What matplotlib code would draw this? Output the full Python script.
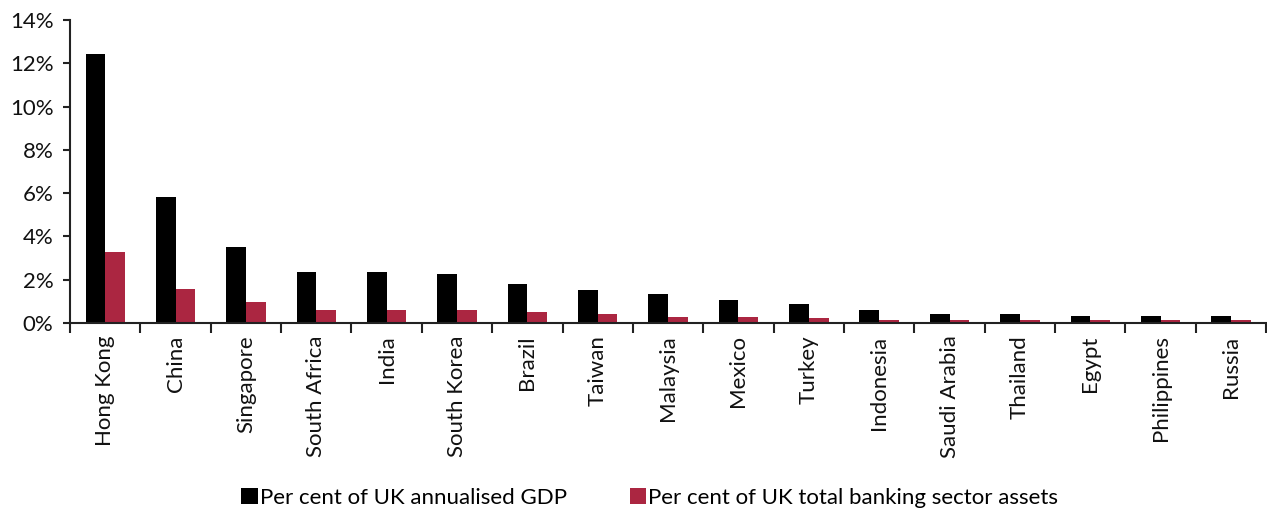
import numpy as np
import matplotlib
matplotlib.use("Agg")
import matplotlib.pyplot as plt
from matplotlib.ticker import FixedLocator, FuncFormatter

plt.rcParams["font.family"] = ["Lato", "DejaVu Sans"]

countries = ["Hong Kong", "China", "Singapore", "South Africa", "India",
             "South Korea", "Brazil", "Taiwan", "Malaysia", "Mexico", "Turkey",
             "Indonesia", "Saudi Arabia", "Thailand", "Egypt", "Philippines",
             "Russia"]
gdp_share = [12.45, 5.8, 3.5, 2.37, 2.37, 2.27, 1.8, 1.53, 1.33, 1.05, 0.88,
             0.59, 0.40, 0.40, 0.31, 0.31, 0.31]
bank_share = [3.3, 1.55, 0.97, 0.6, 0.6, 0.6, 0.5, 0.42, 0.29, 0.29, 0.22,
              0.12, 0.12, 0.12, 0.12, 0.12, 0.12]

BLACK = "#000000"
RED = "#ab2641"
FS = 16

fig = plt.figure(figsize=(12.67, 5.15), dpi=100)
ax = fig.add_axes([0.0553, 0.373, 0.944, 0.588])

x = np.arange(len(countries))
w = 0.28
ax.bar(x - w / 2, gdp_share, w, color=BLACK, label="Per cent of UK annualised GDP")
ax.bar(x + w / 2, bank_share, w, color=RED,
       label="Per cent of UK total banking sector assets")

ax.set_xlim(-0.5, len(countries) - 0.5)
ax.set_ylim(0, 14)
ax.set_yticks(np.arange(0, 15, 2))
ax.yaxis.set_major_formatter(FuncFormatter(lambda v, _: f"{v:.0f}%"))

# labels at category centres, tick marks at category boundaries
ax.set_xticks(x)
ax.set_xticklabels(countries, rotation=90)
ax.xaxis.set_minor_locator(FixedLocator(np.arange(-0.5, len(countries), 1.0)))
ax.tick_params(axis="x", which="major", length=0, pad=9)
ax.tick_params(axis="x", which="minor", length=7, width=1.5, color="#222222")
ax.tick_params(axis="y", length=5, width=1.5, color="#222222", pad=7)
ax.tick_params(labelsize=FS, labelcolor="#111111")

for s in ["top", "right"]:
    ax.spines[s].set_visible(False)
for s in ["left", "bottom"]:
    ax.spines[s].set_linewidth(1.5)
    ax.spines[s].set_color("#222222")

fig.legend(loc="lower center", bbox_to_anchor=(0.513, -0.025), ncol=2,
           frameon=False, fontsize=FS, handlelength=0.75, handleheight=0.75,
           handletextpad=0.1, columnspacing=2.8)

fig.savefig("out.png", dpi=100)
